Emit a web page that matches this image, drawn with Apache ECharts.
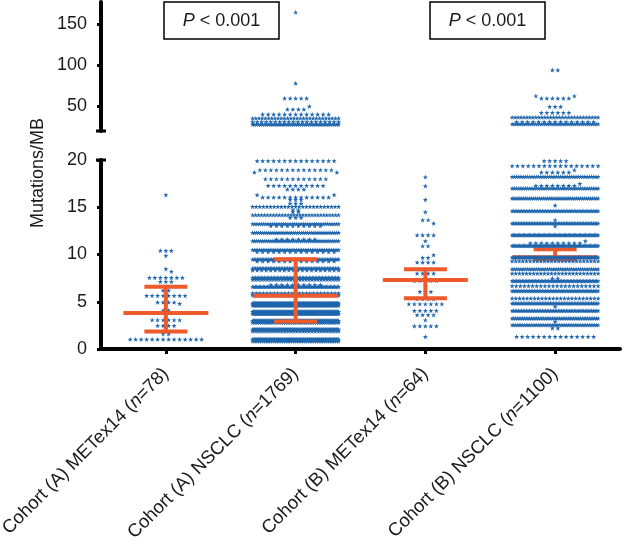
<!DOCTYPE html>
<html>
<head>
<meta charset="utf-8">
<script src="https://cdn.jsdelivr.net/npm/echarts@6/dist/echarts.min.js"></script>
<style>
  html, body { margin: 0; padding: 0; background: #fff; }
  #main { width: 624px; height: 545px; }
</style>
</head>
<body>
<div id="main"></div>
<script>
const categories = ['Cohort (A) METex14', 'Cohort (A) NSCLC', 'Cohort (B) METex14', 'Cohort (B) NSCLC'];
const sampleSizes = ['78', '1769', '64', '1100'];
const medians = [3.8, 5.64, 7.3, 9.7];
const lowerBars = [1.85, 2.9, 5.36, 9.5];
const upperBars = [6.6, 9.5, 8.43, 10.55];
const upperTicks = [50, 100, 150];
const pLabels = ['< 0.001', '< 0.001'];

// swarm rows: [Mutations/MB, number of stars on that level]
const rowsAMet = [
  [16.3, 1], [10.4, 3], [9.87, 1], [8.47, 1], [8.2, 1], [7.55, 7], [7.12, 3], [6.2, 2],
  [5.64, 8], [4.94, 4], [4.8, 1], [4.1, 2], [3.07, 6], [2.47, 4], [1.6, 2], [1.02, 14]
];
const rowsANsclc = [
  [164.5, 1], [78, 1], [59.8, 5], [50, 1], [46.4, 4], [40.3, 13], [35.5, 28], [31, 20], [28, 45],
  [19.9, 15], [18.94, 14], [18.7, 2], [17.99, 12], [17.28, 11], [16.9, 4], [16.3, 2], [16.05, 13],
  [15.8, 3], [15.4, 3], [15.06, 25], [14.7, 2], [14.5, 2], [14.18, 30], [13.9, 3], [13.23, 40],
  [13.03, 10], [12.31, 45], [11.6, 8], [11.43, 45], [10.48, 50], [10.28, 15], [9.49, 55], [9.29, 15],
  [8.54, 55], [8.34, 20], [7.55, 60], [7.35, 30], [6.8, 10], [6.6, 65], [5.91, 25], [5.71, 70],
  [4.83, 140], [4.63, 120], [3.95, 140], [3.75, 105], [3.0, 130], [2.8, 40],
  [2.08, 90], [1.88, 30], [1.02, 110], [0.82, 40]
];
const rowsBMet = [
  [18.2, 1], [17.25, 1], [15.8, 1], [14.5, 1], [13.65, 2], [13.3, 1], [12.06, 4], [11.43, 1],
  [10.9, 2], [9.95, 1], [9.66, 2], [9.17, 4], [8.43, 3], [8.0, 4], [7.23, 5], [6.67, 1],
  [6.07, 3], [5.29, 4], [4.76, 7], [4.05, 5], [3.6, 4], [3.07, 1], [2.43, 5], [1.3, 1]
];
const rowsBNsclc = [
  [94.2, 2], [62.6, 2], [59.8, 6], [49.6, 3], [42.3, 6], [36.7, 30], [31, 15], [28.5, 45],
  [19.9, 5], [19.37, 17], [18.94, 1], [18.7, 6], [18.24, 40], [17.5, 1], [17.28, 8], [17.0, 40],
  [15.94, 45], [15.2, 1], [14.6, 55], [13.65, 1], [13.3, 55], [13.0, 1], [12.06, 70], [11.43, 1],
  [11.2, 10], [10.93, 70], [9.7, 70], [9.3, 25], [8.46, 40], [8.0, 25], [7.48, 2], [7.2, 60],
  [6.67, 22], [6.14, 55], [5.36, 24], [4.83, 55], [4.5, 1], [4.05, 55], [3.25, 50], [2.9, 1],
  [2.54, 50], [2.2, 2], [1.3, 15]
];
const swarmRows = [rowsAMet, rowsANsclc, rowsBMet, rowsBNsclc];

const FONT = 'Liberation Sans';
const INK = '#1a1a1a';
const BLUE = '#1f66ad';
const ORANGE = '#ee5a2a';
const STAR = 'path://M50,0L61.8,35.1L98.9,35.5L69.1,57.6L80.2,93L50,71.5L19.8,93L30.9,57.6L1.1,35.5L38.2,35.1Z';

let chart = echarts.init(document.getElementById('main'));

const yLabel = {
  margin: 14,
  fontFamily: FONT,
  fontSize: 18,
  color: INK
};

chart.setOption({
  animation: false,
  grid: [
    { left: 101, right: 4, top: 2, height: 129, outerBoundsMode: 'none' },
    { left: 101, right: 4, top: 160, height: 189, outerBoundsMode: 'none' }
  ],
  xAxis: [
    { gridIndex: 0, type: 'value', min: -0.5, max: 3.5, show: false },
    {
      gridIndex: 1, type: 'value', min: -0.5, max: 3.5,
      splitLine: { show: false },
      axisLine: { onZero: false, lineStyle: { color: '#000', width: 4 } },
      axisTick: { customValues: [0, 1, 2, 3], length: 5, lineStyle: { color: '#000', width: 3 } },
      axisLabel: {
        customValues: [0, 1, 2, 3],
        rotate: 45,
        margin: 22,
        fontFamily: FONT,
        fontSize: 18.5,
        color: INK,
        formatter: v => categories[v] + ' ({n|n}=' + sampleSizes[v] + ')',
        rich: { n: { fontFamily: FONT, fontSize: 18.5, fontStyle: 'italic', color: INK } }
      }
    }
  ],
  yAxis: [
    {
      gridIndex: 0, type: 'value', min: 20, max: 177,
      splitLine: { show: false },
      axisLine: { show: true, onZero: false, symbol: ['rect', 'none'], symbolSize: [10, 3], lineStyle: { color: '#000', width: 4 } },
      axisTick: { customValues: upperTicks, length: 4, lineStyle: { color: '#000', width: 3 } },
      axisLabel: Object.assign({ customValues: upperTicks }, yLabel)
    },
    {
      gridIndex: 1, type: 'value', min: 0, max: 20, interval: 5,
      splitLine: { show: false },
      axisLine: { show: true, onZero: false, symbol: ['none', 'rect'], symbolSize: [10, 3], lineStyle: { color: '#000', width: 4 } },
      axisTick: { length: 4, lineStyle: { color: '#000', width: 3 } },
      axisLabel: yLabel
    }
  ],
  graphic: [
    {
      type: 'text', x: 38, y: 173, rotation: Math.PI / 2,
      style: { text: 'Mutations/MB', fontFamily: FONT, fontSize: 18, fill: INK, align: 'center', verticalAlign: 'middle' }
    },
    { type: 'rect', shape: { x: 164, y: 2, width: 115, height: 37 }, style: { fill: '#fff', stroke: '#000', lineWidth: 1.5 } },
    {
      type: 'text', x: 221.5, y: 21,
      style: { text: '{i|P} ' + pLabels[0], fontFamily: FONT, fontSize: 18, fill: INK, align: 'center', verticalAlign: 'middle',
        rich: { i: { fontFamily: FONT, fontSize: 18, fontStyle: 'italic', fill: INK } } }
    },
    { type: 'rect', shape: { x: 430, y: 2, width: 115, height: 37 }, style: { fill: '#fff', stroke: '#000', lineWidth: 1.5 } },
    {
      type: 'text', x: 487.5, y: 21,
      style: { text: '{i|P} ' + pLabels[1], fontFamily: FONT, fontSize: 18, fill: INK, align: 'center', verticalAlign: 'middle',
        rich: { i: { fontFamily: FONT, fontSize: 18, fontStyle: 'italic', fill: INK } } }
    }
  ]
});

// simple beeswarm: each level is a row of stars, pushed outward when a
// neighbouring level already sits in the middle
function swarm(rows, cat, grid) {
  const step = 5.5, maxHalf = 43, near = 3.5;
  let placed = [];
  let out = [];
  rows.slice().sort((a, b) => b[1] - a[1]).forEach(([v, k]) => {
    let p = chart.convertToPixel({ gridIndex: grid }, [cat, v]);
    let H = placed.filter(r => Math.abs(r.py - p[1]) < near).reduce((m, r) => Math.max(m, r.half), -1);
    let xs = [];
    if (H >= 0 && H + step * Math.ceil(k / 2) <= maxHalf) {
      for (let i = 0; i < k; i++) {
        xs.push((i % 2 ? -1 : 1) * (H + step * (Math.floor(i / 2) + 1)));
      }
      placed.push({ py: p[1], half: H + step * Math.ceil(k / 2) });
    } else {
      let s = k > 1 ? Math.min(step, 2 * maxHalf / (k - 1)) : 0;
      for (let i = 0; i < k; i++) xs.push((i - (k - 1) / 2) * s);
      placed.push({ py: p[1], half: (k - 1) / 2 * s });
    }
    xs.forEach(dx => {
      out.push([chart.convertFromPixel({ gridIndex: grid }, [p[0] + dx, p[1]])[0], v]);
    });
  });
  return out;
}

let series = [];
swarmRows.forEach((rows, cat) => {
  let low = rows.filter(r => r[0] <= 20);
  let high = rows.filter(r => r[0] > 20);
  series.push({
    type: 'scatter', xAxisIndex: 1, yAxisIndex: 1, z: cat === 3 ? 4 : 2,
    symbol: STAR, symbolSize: 5, itemStyle: { color: BLUE, opacity: 1 },
    silent: true, clip: false,
    data: swarm(low, cat, 1)
  });
  if (high.length) {
    series.push({
      type: 'scatter', xAxisIndex: 0, yAxisIndex: 0, z: 2,
      symbol: STAR, symbolSize: 5, itemStyle: { color: BLUE, opacity: 1 },
      silent: true, clip: false,
      data: swarm(high, cat, 0)
    });
  }
});

series.push({
  type: 'custom', xAxisIndex: 1, yAxisIndex: 1, z: 3, silent: true,
  data: medians.map((m, i) => [i, m, lowerBars[i], upperBars[i]]),
  renderItem: function (params, api) {
    let x = api.value(0);
    let m = api.coord([x, api.value(1)]);
    let lo = api.coord([x, api.value(2)]);
    let hi = api.coord([x, api.value(3)]);
    let style = { stroke: ORANGE, lineWidth: 4, fill: null };
    return {
      type: 'group',
      children: [
        { type: 'line', shape: { x1: lo[0], y1: lo[1], x2: hi[0], y2: hi[1] }, style },
        { type: 'line', shape: { x1: lo[0] - 21.5, y1: lo[1], x2: lo[0] + 21.5, y2: lo[1] }, style },
        { type: 'line', shape: { x1: hi[0] - 21.5, y1: hi[1], x2: hi[0] + 21.5, y2: hi[1] }, style },
        { type: 'line', shape: { x1: m[0] - 42.5, y1: m[1], x2: m[0] + 42.5, y2: m[1] }, style }
      ]
    };
  }
});

chart.setOption({ series: series });
</script>
</body>
</html>
